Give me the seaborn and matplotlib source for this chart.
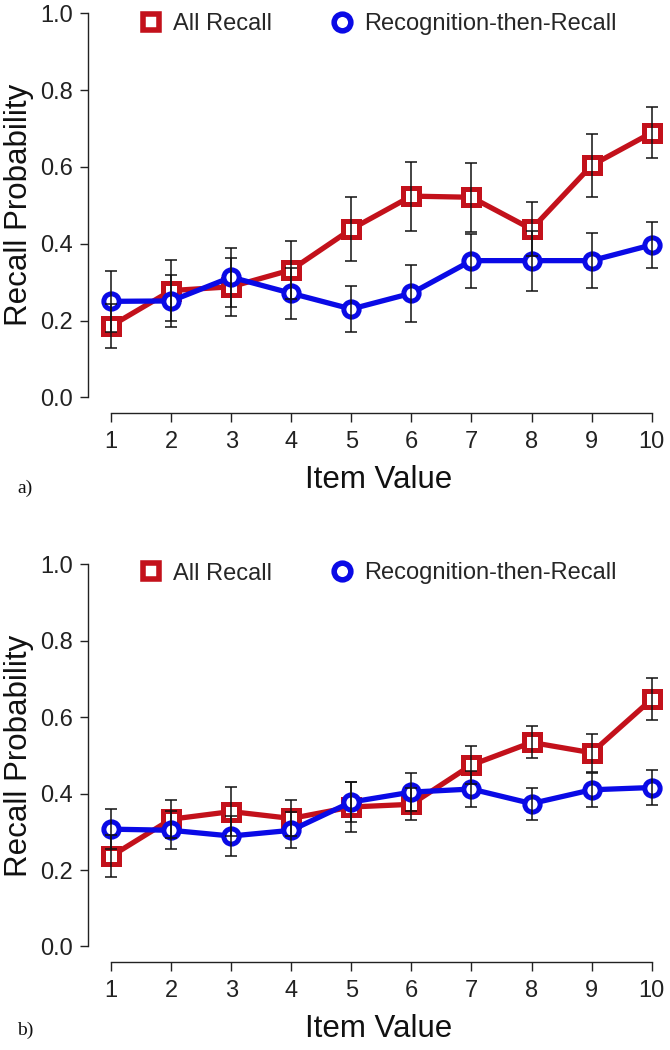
import numpy as np
import pandas as pd
import matplotlib
matplotlib.use("Agg")
import matplotlib.pyplot as plt
from matplotlib.lines import Line2D
import seaborn as sns

# ---------------- data ----------------
items = [1, 2, 3, 4, 5, 6, 7, 8, 9, 10]
series_names = ["All Recall", "Recognition-then-Recall"]
y_ticks = [0.0, 0.2, 0.4, 0.6, 0.8, 1.0]
y_tick_labels = ["0.0", "0.2", "0.4", "0.6", "0.8", "1.0"]
panel_tags = ["a)", "b)"]

a_all_recall = [0.186, 0.278, 0.288, 0.332, 0.438, 0.524, 0.521, 0.438, 0.604, 0.689]
a_all_recall_err = [0.058, 0.080, 0.075, 0.075, 0.083, 0.090, 0.090, 0.070, 0.081, 0.067]
a_recog = [0.250, 0.251, 0.313, 0.271, 0.230, 0.271, 0.356, 0.356, 0.356, 0.397]
a_recog_err = [0.080, 0.067, 0.077, 0.066, 0.061, 0.074, 0.070, 0.078, 0.071, 0.060]

b_all_recall = [0.236, 0.333, 0.353, 0.335, 0.365, 0.372, 0.475, 0.534, 0.507, 0.647]
b_all_recall_err = [0.055, 0.050, 0.065, 0.047, 0.065, 0.042, 0.050, 0.042, 0.050, 0.055]
b_recog = [0.307, 0.304, 0.289, 0.304, 0.378, 0.404, 0.412, 0.374, 0.410, 0.416]
b_recog_err = [0.052, 0.050, 0.052, 0.047, 0.052, 0.050, 0.047, 0.042, 0.045, 0.047]

# ---------------- style ----------------
sns.set_theme(style="ticks")
plt.rcParams["font.family"] = ["Liberation Sans", "DejaVu Sans"]

RED = "#C3111B"
BLUE = "#0A0AE6"
colors = {series_names[0]: RED, series_names[1]: BLUE}
markers = {series_names[0]: "s", series_names[1]: "o"}

W, H = 670, 1050
fig = plt.figure(figsize=(W / 100, H / 100), dpi=100)


def make_df(v1, e1, v2, e2):
    rows = []
    for name, v, e in [(series_names[0], v1, e1), (series_names[1], v2, e2)]:
        for x, y, s in zip(items, v, e):
            rows.append({"item": x, "prob": y, "se": s, "series": name})
    return pd.DataFrame(rows)


panels = [
    make_df(a_all_recall, a_all_recall_err, a_recog, a_recog_err),
    make_df(b_all_recall, b_all_recall_err, b_recog, b_recog_err),
]

# pixel geometry (from top of figure)
x_left_px = 88
xlim = (0.617, 10.305)
ylim = (-0.04, 1.03)
spine_y_px = [412.7, 961.7]
px_per_unit = [384.0, 382.0]
legend_y_px = [24.0, 573.5]
tag_y_px = [488.0, 1030.0]
ylabel_right_px = 34.0

for i, df in enumerate(panels):
    h_px = (ylim[1] - ylim[0]) * px_per_unit[i]
    w_px = W - x_left_px
    ax = fig.add_axes([x_left_px / W, (H - spine_y_px[i]) / H,
                       w_px / W, h_px / H])
    ax.set_facecolor("none")
    for z, name in enumerate(series_names):
        sub = df[df["series"] == name]
        sns.lineplot(data=sub, x="item", y="prob", ax=ax, color=colors[name],
                     marker=markers[name], markersize=11, markeredgewidth=3.6,
                     markeredgecolor=colors[name], markerfacecolor="white",
                     linewidth=3.8, legend=False, errorbar=None,
                     solid_joinstyle="round", solid_capstyle="round", zorder=2 + z)
    for name in series_names:
        sub = df[df["series"] == name]
        ax.errorbar(sub["item"], sub["prob"], yerr=sub["se"], fmt="none",
                    ecolor="#111111", elinewidth=1.1, capsize=4.5, capthick=1.1,
                    zorder=6)
    ax.set_xlim(*xlim)
    ax.set_ylim(*ylim)
    ax.set_xticks(items)
    ax.set_xticklabels([str(v) for v in items])
    ax.set_yticks(y_ticks)
    ax.set_yticklabels(y_tick_labels)
    for s in ["top", "right"]:
        ax.spines[s].set_visible(False)
    ax.spines["left"].set_bounds(0, 1)
    ax.spines["bottom"].set_bounds(1, 10)
    for s in ["left", "bottom"]:
        ax.spines[s].set_linewidth(1.0)
        ax.spines[s].set_color("#222222")
    ax.tick_params(axis="y", length=6, width=1.0, pad=5, labelsize=17,
                   colors="#222222", direction="out")
    ax.tick_params(axis="x", length=6.5, width=1.0, pad=7, labelsize=17,
                   colors="#222222", direction="out")
    ax.set_xlabel("Item Value", fontsize=22.5, labelpad=8, color="#111111")
    ax.set_ylabel("Recall Probability", fontsize=22.5, labelpad=0, color="#111111")
    ax.yaxis.set_label_coords((ylabel_right_px - x_left_px) / w_px,
                              (0.5 - ylim[0]) / (ylim[1] - ylim[0]))

    handles = [Line2D([], [], linestyle="none", marker=markers[n], markersize=12,
                      markeredgewidth=4, markeredgecolor=colors[n],
                      markerfacecolor="white") for n in series_names]
    fig.legend(handles, series_names, loc="center left", ncol=2, frameon=False,
               fontsize=17, handlelength=1.0, handletextpad=0.43,
               columnspacing=2.46, borderpad=0, borderaxespad=0,
               bbox_to_anchor=(139.2 / W, 1 - legend_y_px[i] / H),
               bbox_transform=fig.transFigure)

    fig.text(17 / W, 1 - tag_y_px[i] / H, panel_tags[i], fontsize=14,
             family=["Liberation Serif", "DejaVu Serif"], ha="left", va="center",
             color="#111111")

fig.savefig("out.png", dpi=100)
